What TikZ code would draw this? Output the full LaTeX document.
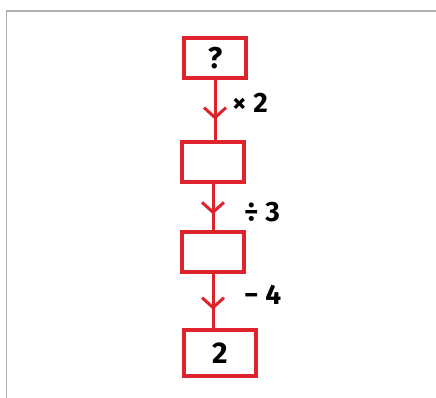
\documentclass[tikz,border=0pt]{standalone}
\usepackage{fontspec}
\setmainfont{Fira Sans}
\usetikzlibrary{arrows.meta,decorations.markings}
\definecolor{marker}{RGB}{222,35,45}
\definecolor{framegray}{RGB}{175,175,175}
\begin{document}
\begin{tikzpicture}[x=1pt,y=-1pt,
  box/.style={draw=marker, line width=4pt, minimum width=62pt, minimum height=40pt, inner sep=0pt,
    font=\bfseries\fontsize{30}{30}\selectfont},
  flow/.style={draw=marker, line width=3pt, postaction={decorate},
    decoration={markings, mark=at position 0.66 with {\arrow{Straight Barb[length=10pt,width=22pt,line width=3pt]}}}},
  lbl/.style={font=\bfseries\fontsize{28}{28}\selectfont, anchor=west, inner sep=0pt}]
\useasboundingbox (0,0) rectangle (436,398);
\draw[framegray, line width=1.5pt] (6.5,398) -- (6.5,11) -- (436,11);
\node[box] (b1) at (215,58) {?};
\node[box] (b2) at (213,162) {};
\node[box] (b3) at (213,252) {};
\node[box, minimum width=72pt, minimum height=46pt] (b4) at (220,353) {2};
\coordinate (a1) at (b2.north -| b1.south);
\coordinate (a3) at (b4.north -| b3.south);
\draw[flow] (b1.south) -- (a1);
\draw[flow] (b2.south) -- (b3.north);
\draw[flow] (b3.south) -- (a3);
\node[lbl] (l1) at (232,103) {× 2};
\node[lbl] (l2) at (244,212) {÷ 3};
\node[lbl] (l3) at (244,295) {− 4};
\end{tikzpicture}
\end{document}
